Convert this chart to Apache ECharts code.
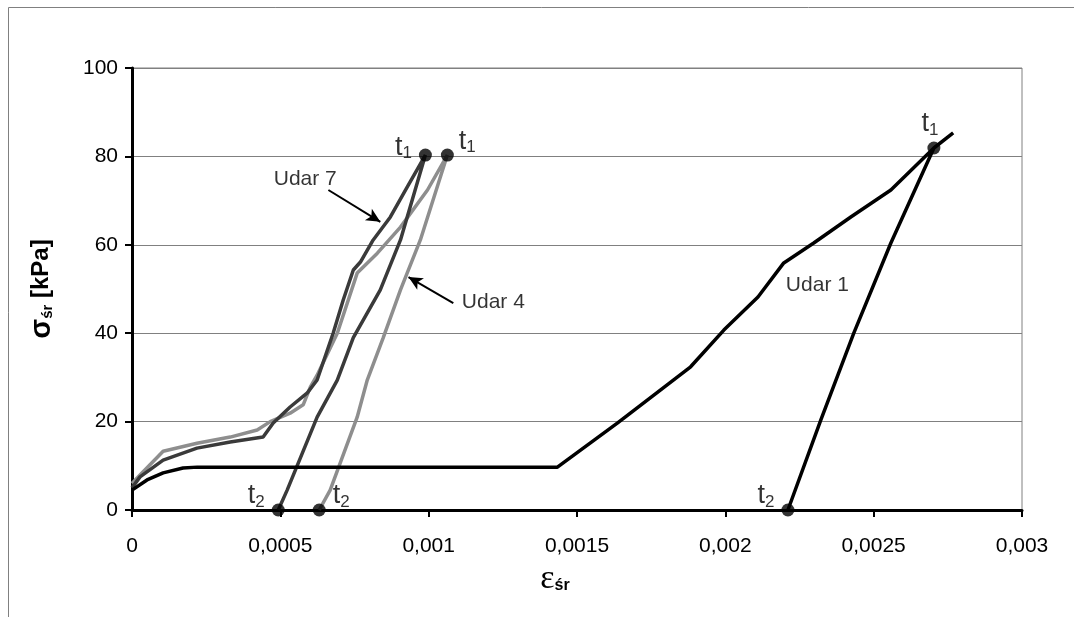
<!DOCTYPE html>
<html>
<head>
<meta charset="utf-8">
<script src="https://cdn.jsdelivr.net/npm/echarts@6/dist/echarts.min.js"></script>
<style>
  html, body { margin: 0; padding: 0; background: #fff; }
  #chart { width: 1074px; height: 617px; }
</style>
</head>
<body>
<div id="chart"></div>
<script>
// [strain, stress kPa]
const udar1 = [
  [0, 4.5], [0.0000506, 6.8], [0.000105, 8.4], [0.000172, 9.5], [0.00022, 9.7],
  [0.001434, 9.7], [0.001637, 19.7], [0.001883, 32.4], [0.001995, 40.7],
  [0.00211, 48.2], [0.002197, 55.9], [0.002298, 60.4], [0.002423, 66.3],
  [0.002558, 72.4], [0.002703, 81.9], [0.002768, 85.3],
  [0.002703, 81.9], [0.002558, 60.4], [0.002433, 40], [0.002322, 20.4], [0.002211, 0]
];
const udar7 = [
  [0, 5], [0.000027, 7.5], [0.000105, 11.3], [0.000219, 14], [0.000331, 15.4],
  [0.000442, 16.5], [0.000476, 19.7], [0.000533, 23.3], [0.000591, 26.5],
  [0.000624, 29.4], [0.000678, 40], [0.000712, 47.5], [0.000746, 54.3],
  [0.00077, 56.1], [0.000813, 61.1], [0.000871, 66.3], [0.000928, 73.1],
  [0.000989, 80.3],
  [0.000905, 61.1], [0.000837, 49.8], [0.000746, 39], [0.000692, 29.4],
  [0.000624, 21], [0.000523, 4.5], [0.000493, 0]
];
const udar4 = [
  [0, 6], [0.000027, 7.9], [0.000105, 13.3], [0.000219, 15.1], [0.000331, 16.5],
  [0.000422, 18.1], [0.000466, 20], [0.000533, 21.9], [0.000577, 23.8],
  [0.000601, 27.8], [0.000624, 30.5], [0.000692, 40], [0.000759, 53.6],
  [0.000827, 58.1], [0.000905, 64], [0.000996, 72.4], [0.001063, 80.3],
  [0.000972, 61.1], [0.000905, 49.8], [0.000847, 39], [0.000793, 29.4],
  [0.000759, 21], [0.000668, 4.5], [0.000631, 0]
];
// t1 / t2 points: [strain, stress, label]
const tPoints = [
  [0.000989, 80.3, 't1'], [0.001063, 80.3, 't1'], [0.002703, 81.9, 't1'],
  [0.000493, 0, 't2'], [0.000631, 0, 't2'], [0.002211, 0, 't2']
];
const tLabelPos = [
  { position: 'left', offset: [-2, -8] },
  { position: 'right', offset: [0, -14] },
  { position: 'top', offset: [-4, 2] },
  { position: 'left', offset: [-2, -14] },
  { position: 'right', offset: [2, -14] },
  { position: 'left', offset: [-2, -14] }
];
const xTicks = [0, 0.0005, 0.001, 0.0015, 0.002, 0.0025, 0.003];
const yTicks = [0, 20, 40, 60, 80, 100];
// annotation texts [strain, stress, text]
const notes = [
  [0.000584, 74.9, 'Udar 7'],
  [0.001218, 47.1, 'Udar 4'],
  [0.002204, 50.9, 'Udar 1']
];
// arrows [[from], [to]]
const arrows = [
  [[0.000662, 72.4], [0.000837, 65.2]],
  [[0.001083, 46.8], [0.000932, 52.7]]
];

const chart = echarts.init(document.getElementById('chart'));

function lineSeries(name, data, color, z) {
  return {
    name: name,
    type: 'line',
    data: data,
    symbol: 'none',
    z: z,
    animation: false,
    lineStyle: { color: color, width: 3.5 }
  };
}

const option = {
  animation: false,
  backgroundColor: '#fff',
  textStyle: { fontFamily: 'Liberation Sans, Arial, sans-serif' },
  graphic: [{
    type: 'rect',
    shape: { x: 8.5, y: 7.5, width: 1080, height: 640 },
    style: { fill: 'none', stroke: '#808080', lineWidth: 1 },
    silent: true
  }],
  grid: {
    left: 132, top: 68, right: 52, bottom: 107,
    show: true, borderColor: '#808080', borderWidth: 1
  },
  xAxis: {
    type: 'value',
    min: 0, max: 0.003, interval: 0.0005,
    name: '{e|ε}{s|śr}',
    nameLocation: 'middle',
    nameGap: 30,
    nameTextStyle: {
      padding: [0, 44, 0, 0],
      rich: {
        e: { fontFamily: 'Liberation Serif, serif', fontSize: 34, color: '#000' },
        s: { fontFamily: 'Liberation Sans, Arial', fontSize: 16, fontWeight: 'bold', color: '#000', padding: [14, 0, 0, 0] }
      }
    },
    axisLine: { lineStyle: { color: '#000', width: 3 } },
    axisTick: { show: true, length: 7, lineStyle: { color: '#000', width: 2 } },
    axisLabel: {
      color: '#000', fontSize: 21, margin: 26,
      formatter: v => xTicks.indexOf(+v.toFixed(4)) >= 0 ? String(+v.toFixed(4)).replace('.', ',') : ''
    },
    splitLine: { show: false }
  },
  yAxis: {
    type: 'value',
    min: 0, max: 100, interval: 20,
    name: '{g|σ}{s|śr}{b| [kPa]}',
    nameLocation: 'middle',
    nameGap: 76,
    nameTextStyle: {
      rich: {
        g: { fontFamily: 'Liberation Sans, Arial', fontSize: 29, fontWeight: 'bold', color: '#000' },
        s: { fontFamily: 'Liberation Sans, Arial', fontSize: 15, fontWeight: 'bold', color: '#000', padding: [12, 0, 0, 0] },
        b: { fontFamily: 'Liberation Sans, Arial', fontSize: 24, fontWeight: 'bold', color: '#000' }
      }
    },
    axisLine: { show: true, lineStyle: { color: '#000', width: 3 } },
    axisTick: { show: true, length: 7, lineStyle: { color: '#000', width: 2 } },
    axisLabel: {
      color: '#000', fontSize: 21, margin: 14,
      formatter: v => yTicks.indexOf(v) >= 0 ? String(v) : ''
    },
    splitLine: { show: true, lineStyle: { color: '#808080', width: 1 } }
  },
  series: [
    lineSeries('Udar 4', udar4, '#8e8e8e', 2),
    lineSeries('Udar 7', udar7, '#3a3a3a', 3),
    Object.assign(lineSeries('Udar 1', udar1, '#000', 4), {
      markLine: {
        silent: true,
        symbol: ['none', 'arrow'],
        symbolSize: [10, 14],
        lineStyle: { color: '#000', width: 2, type: 'solid' },
        label: { show: false },
        data: arrows.map(a => [{ coord: a[0] }, { coord: a[1] }])
      }
    }),
    {
      name: 'notes',
      type: 'scatter',
      symbolSize: 0,
      z: 6,
      data: notes.map(n => ({
        value: [n[0], n[1]],
        label: { show: true, formatter: n[2], position: 'inside', align: n[2] === 'Udar 1' ? 'left' : 'center',
          color: '#000', fontSize: 21, fontFamily: 'Liberation Sans, Arial' }
      }))
    },
    {
      name: 't',
      type: 'scatter',
      symbol: 'circle',
      symbolSize: 13,
      z: 7,
      itemStyle: { color: '#000' },
      data: tPoints.map((p, i) => ({
        value: [p[0], p[1]],
        label: {
          show: true,
          position: tLabelPos[i].position,
          offset: tLabelPos[i].offset,
          formatter: '{t|t}{s|' + p[2].slice(1) + '}',
          rich: {
            t: { fontSize: 27, color: '#000', fontFamily: 'Liberation Sans, Arial' },
            s: { fontSize: 17, color: '#000', fontFamily: 'Liberation Sans, Arial', padding: [12, 0, 0, 0] }
          }
        }
      }))
    }
  ]
};

chart.setOption(option);
</script>
</body>
</html>
